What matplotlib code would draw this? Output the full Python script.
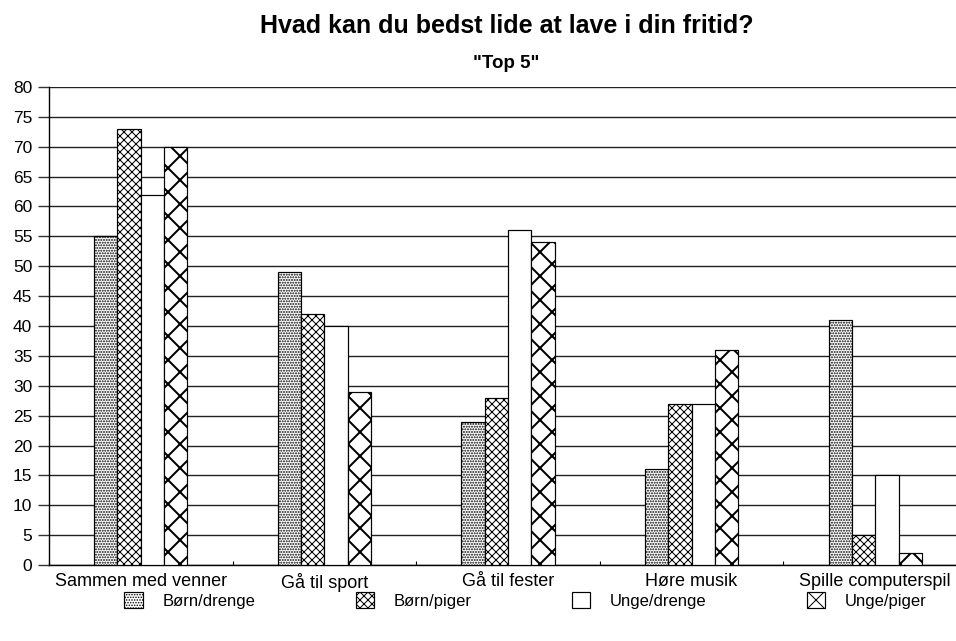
import matplotlib
matplotlib.use("Agg")
import matplotlib.pyplot as plt
import numpy as np

categories = ["Sammen med venner", "Gå til sport", "Gå til fester", "Høre musik", "Spille computerspil"]
series_names = ["Børn/drenge", "Børn/piger", "Unge/drenge", "Unge/piger"]
born_drenge = [55, 49, 24, 16, 41]
born_piger = [73, 42, 28, 27, 5]
unge_drenge = [62, 40, 56, 27, 15]
unge_piger = [70, 29, 54, 36, 2]
yticks = list(range(0, 81, 5))

series = [born_drenge, born_piger, unge_drenge, unge_piger]
hatches = [".........", "xxxxxx", "", "xx"]

DPI = 144
k = 100 / DPI      # points@100dpi -> points@DPI (same pixel size)
px = 72 / DPI      # one pixel in points

hatch_lw = [1.3 * px, 1.0 * px, 1.0 * px, 2.0 * px]

plt.rcParams['font.family'] = ['Liberation Sans', 'DejaVu Sans']
plt.rcParams['hatch.linewidth'] = 1.0 * px

W, H = 956, 641
fig = plt.figure(figsize=(W / DPI, H / DPI), dpi=DPI)
left, right, top, bottom = 49, 967, 87, 565
ax = fig.add_axes([left / W, 1 - bottom / H, (right - left) / W, (bottom - top) / H])

x = np.arange(len(categories))
w = 0.127
for i, (vals, hatch) in enumerate(zip(series, hatches)):
    bars = ax.bar(x + (i - 1.5) * w, vals, width=w, color="white", edgecolor="black",
                  linewidth=1.2 * px, hatch=hatch, label=series_names[i], zorder=3)
    for b in bars:
        if hasattr(b, "set_hatch_linewidth"):
            b.set_hatch_linewidth(hatch_lw[i])

ax.set_xlim(-0.5, len(categories) - 0.5)
ax.set_ylim(0, 80)
ax.set_yticks(yticks)
ax.set_yticklabels([str(v) for v in yticks], fontsize=12.5 * k)
ax.set_xticks(x)
ax.set_xticklabels(categories, fontsize=13 * k)
ax.set_xticks(np.arange(len(categories) + 1) - 0.5, minor=True)
ax.tick_params(axis='x', which='major', length=0, pad=6 * k)
ax.tick_params(axis='x', which='minor', length=3 * k, direction='in', width=0.8 * k)
ax.tick_params(axis='y', which='major', length=8 * k, width=1.0 * k, pad=4 * k, color='#333333')
ax.yaxis.grid(True, color='#222222', linewidth=1.0 * k)
ax.set_axisbelow(True)
for s in ['top', 'right']:
    ax.spines[s].set_visible(False)
ax.spines['left'].set_linewidth(1.0 * k)
ax.spines['bottom'].set_linewidth(1.0 * k)

fig.text(0.5 * (258 + 755) / W, 1 - 33 / H, "Hvad kan du bedst lide at lave i din fritid?",
         ha='center', va='baseline', fontsize=18 * k, fontweight='bold')
fig.text(0.5 * (258 + 755) / W, 1 - 68 / H, '"Top 5"',
         ha='center', va='baseline', fontsize=13.5 * k, fontweight='bold')

handles, labels = ax.get_legend_handles_labels()
anchor = (536 / W, 1 - 603 / H)
leg = fig.legend(handles, labels, loc='center', bbox_to_anchor=anchor,
                 ncol=4, frameon=False, fontsize=12 * k, handlelength=1.1, handleheight=1.1,
                 handletextpad=1.2, columnspacing=6.0)

# place legend so the coarse cross hatch is centred in its key (key centre near x=816, row=600)
fig.canvas.draw()
renderer = fig.canvas.get_renderer()
hb = leg.legend_handles[3].get_window_extent(renderer)
cx = 0.5 * (hb.x0 + hb.x1)
cr = H - 0.5 * (hb.y0 + hb.y1)
tx, tr = 816.0, 600.0
dx = tx - cx
dr = tr - cr
leg.set_bbox_to_anchor((anchor[0] + dx / W, anchor[1] - dr / H), transform=fig.transFigure)

fig.savefig("out.png", dpi=DPI)
